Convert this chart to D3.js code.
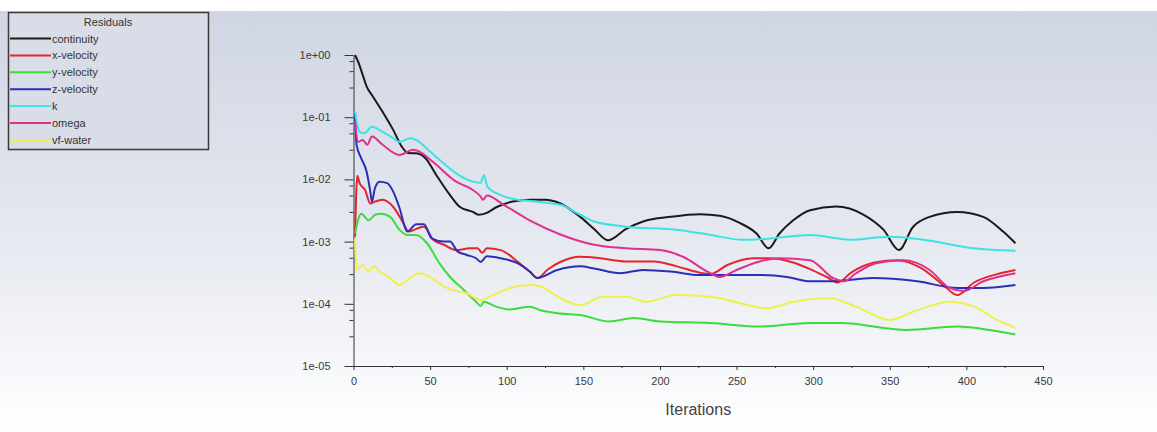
<!DOCTYPE html>
<html>
<head>
<meta charset="utf-8">
<script src="https://cdn.jsdelivr.net/npm/d3@7"></script>
<style>
  html, body { margin: 0; padding: 0; background: #ffffff; }
  svg { display: block; }
</style>
</head>
<body>
<svg id="chart" width="1157" height="432"></svg>
<script>
// ---------------- DATA ----------------
const seriesNames = ["continuity", "x-velocity", "y-velocity", "z-velocity", "k", "omega", "vf-water"];
const seriesColors = ["#1a1a1a", "#e3252d", "#3bdc3b", "#2a2fb8", "#3fe2e2", "#e0308f", "#f0f04a"];

const xTickValues = [0, 50, 100, 150, 200, 250, 300, 350, 400, 450];
const xMinorTicks = [25, 75, 125, 175, 225, 275, 325, 375, 425];
const yTickValues = [1, 1e-1, 1e-2, 1e-3, 1e-4, 1e-5];
const yTickLabels = ["1e+00", "1e-01", "1e-02", "1e-03", "1e-04", "1e-05"];
const yMinorFactors = [0.8, 0.55, 0.3];

// [iteration, residual]
const continuity = [[1,1.0],[3,0.78],[6,0.48],[8.6,0.31],[12,0.227],[19,0.122],[26,0.062],[31.5,0.0336],[35.6,0.0266],[41,0.0263],[47,0.0219],[54,0.0118],[63,0.0056],[69.5,0.0036],[78,0.0030],[81.5,0.0027],[87,0.0029],[93.5,0.0036],[104,0.0044],[115,0.0047],[125,0.0047],[135,0.0041],[148,0.0025],[157,0.0016],[166,0.00105],[178,0.0016],[189,0.0021],[207,0.0025],[226,0.00275],[239,0.0026],[252,0.002],[263,0.00135],[271,0.00078],[278,0.00135],[287,0.0022],[298,0.0032],[315,0.00366],[333,0.0027],[346,0.00154],[356,0.00073],[365,0.0017],[376,0.0025],[394,0.003],[411,0.0025],[424,0.00145],[432,0.00094]];
const xVelocity = [[1,0.0012],[2.5,0.0115],[4,0.0087],[7.5,0.0068],[11,0.0041],[14,0.0044],[19,0.0047],[26,0.0036],[32.5,0.0020],[36,0.00145],[41,0.0016],[46,0.00174],[52,0.00107],[59,0.00089],[67,0.00073],[76,0.00078],[81,0.00078],[84,0.00066],[87,0.00078],[96,0.00073],[107,0.00048],[115,0.00033],[120,0.00026],[127,0.00036],[135,0.00047],[148,0.00057],[161,0.00054],[178,0.00048],[196,0.00048],[211,0.0004],[228,0.00031],[233,0.0003],[244,0.00042],[261,0.00054],[272,0.00054],[287,0.00046],[298,0.00036],[310,0.00026],[316,0.00022],[325,0.00032],[340,0.00046],[355,0.0005],[370,0.00038],[385,0.0002],[394,0.000138],[405,0.00022],[420,0.0003],[432,0.00035]];
const yVelocity = [[1,0.00135],[5,0.0028],[10,0.0022],[14,0.0027],[18,0.0028],[24,0.0025],[30,0.00155],[35,0.00128],[41,0.00128],[48,0.00094],[56,0.00045],[63,0.00027],[72,0.000167],[80,0.000108],[83,0.000092],[85,0.000108],[93,0.00009],[102,0.000081],[115,0.00009],[122,0.000079],[135,0.00007],[148,0.000066],[167,0.000052],[183,0.000059],[200,0.000052],[233,0.000049],[265,0.000043],[298,0.000049],[318,0.000049],[361,0.000038],[394,0.000043],[415,0.000038],[432,0.000032]];
const zVelocity = [[1,0.12],[2,0.036],[5,0.022],[8.6,0.0132],[11,0.0063],[12,0.0044],[14,0.0072],[17,0.0092],[22,0.0087],[26,0.0063],[30,0.0035],[35,0.00145],[41,0.0019],[46,0.0019],[51,0.00113],[59,0.001],[63,0.001],[68,0.00069],[74,0.00061],[80,0.00054],[83,0.00047],[87,0.00058],[96,0.00054],[107,0.00045],[115,0.00033],[120,0.00026],[133,0.00035],[148,0.0004],[157,0.00037],[174,0.00031],[189,0.00035],[207,0.00033],[226,0.00029],[265,0.00029],[283,0.00027],[298,0.00023],[311,0.00023],[339,0.00026],[368,0.00023],[394,0.00018],[411,0.00018],[432,0.0002]];
const kTurb = [[1,0.123],[4,0.058],[7,0.055],[12,0.07],[19,0.058],[26,0.046],[30,0.040],[37,0.046],[41,0.043],[50,0.028],[59,0.018],[67,0.0125],[78,0.0092],[83,0.0088],[85,0.0118],[87.5,0.0076],[96,0.0056],[107,0.0047],[115,0.0045],[135,0.0039],[148,0.0027],[157,0.0021],[178,0.00174],[211,0.00155],[233,0.00128],[254,0.00107],[272,0.00112],[298,0.00128],[324,0.00107],[350,0.0012],[372,0.00107],[405,0.00078],[432,0.00071]];
const omega = [[1,0.085],[3,0.04],[6,0.043],[9,0.036],[12,0.049],[19,0.036],[30,0.0247],[39,0.030],[43,0.028],[52,0.019],[67,0.0092],[76,0.0072],[83,0.0053],[84.5,0.0047],[87,0.0055],[98,0.0039],[115,0.0022],[135,0.0013],[157,0.00089],[178,0.00078],[200,0.00073],[215,0.00057],[231,0.00033],[239,0.00027],[250,0.00035],[265,0.00048],[278,0.00054],[298,0.0005],[313,0.00026],[320,0.00023],[328,0.00031],[341,0.00045],[359,0.0005],[376,0.00035],[389,0.00018],[398,0.00016],[411,0.00023],[432,0.00031]];
const vfWater = [[1,0.0011],[2,0.00035],[6,0.00042],[10,0.00033],[13,0.0004],[17,0.00033],[24,0.00026],[30,0.0002],[37,0.00026],[43,0.00031],[50,0.00027],[59,0.00019],[67,0.00016],[74,0.000148],[83,0.000115],[91,0.000138],[102,0.000178],[115,0.0002],[122,0.00019],[135,0.000123],[148,0.000095],[163,0.00013],[178,0.00013],[191,0.000108],[211,0.000138],[233,0.00013],[254,0.0001],[270,0.000085],[287,0.000108],[311,0.000123],[328,0.00009],[350,0.000055],[368,0.000079],[389,0.000108],[405,0.00009],[420,0.000055],[432,0.000041]];

const seriesData = [continuity, xVelocity, yVelocity, zVelocity, kTurb, omega, vfWater];

// ---------------- DRAW ----------------
const svg = d3.select("#chart");
const font = "'Liberation Sans', Arial, sans-serif";

// background panel gradient
const defs = svg.append("defs");
const grad = defs.append("linearGradient").attr("id", "bg").attr("x1", 0).attr("y1", 0).attr("x2", 0).attr("y2", 1);
grad.append("stop").attr("offset", "0%").attr("stop-color", "#cfd5e3");
grad.append("stop").attr("offset", "55%").attr("stop-color", "#e6e9f0");
grad.append("stop").attr("offset", "100%").attr("stop-color", "#ffffff");
svg.append("rect").attr("x", 0).attr("y", 0).attr("width", 1157).attr("height", 432).attr("fill", "#ffffff");
svg.append("rect").attr("x", 0).attr("y", 11).attr("width", 1157).attr("height", 421).attr("fill", "url(#bg)");

const x = d3.scaleLinear().domain([0, 450]).range([353.5, 1043]);
const y = d3.scaleLog().domain([1e-5, 1]).range([366, 55]);

// X axis
const xAxisG = svg.append("g").attr("transform", `translate(0,${y(1e-5)})`)
  .call(d3.axisBottom(x).tickValues(xTickValues).tickSize(4).tickSizeOuter(0).tickPadding(7).tickFormat(d3.format("d")));
svg.append("g").attr("transform", `translate(0,${y(1e-5)})`)
  .call(d3.axisBottom(x).tickValues(xMinorTicks).tickSize(2).tickSizeOuter(0).tickFormat(""))
  .call(g => g.select(".domain").remove());

// Y axis
const yAxisG = svg.append("g").attr("transform", `translate(${x(0)},0)`)
  .call(d3.axisLeft(y).tickValues(yTickValues).tickSize(9).tickSizeOuter(0).tickPadding(14)
    .tickFormat((d, i) => yTickLabels[i]));
const yMinor = [];
yTickValues.slice(0, 5).forEach(v => yMinorFactors.forEach(f => yMinor.push(v * f)));
svg.append("g").attr("transform", `translate(${x(0)},0)`)
  .call(d3.axisLeft(y).tickValues(yMinor).tickSize(4).tickSizeOuter(0).tickFormat(""))
  .call(g => g.select(".domain").remove());

svg.selectAll(".tick line").attr("stroke", "#333");
svg.selectAll(".domain").attr("stroke", "#333");
svg.selectAll(".tick text").attr("font-family", font).attr("font-size", 11).attr("fill", "#3a3a3a");

// axis title
svg.append("text").attr("x", (x(0) + x(450)) / 2).attr("y", 415)
  .attr("text-anchor", "middle").attr("font-family", font).attr("font-size", 16)
  .attr("fill", "#444").text("Iterations");

// lines
const line = d3.line().x(d => x(d[0])).y(d => y(d[1])).curve(d3.curveMonotoneX);
seriesData.forEach((data, i) => {
  svg.append("path").datum(data).attr("d", line)
    .attr("fill", "none").attr("stroke", seriesColors[i])
    .attr("stroke-width", 2).attr("stroke-linejoin", "round");
});

// legend
const lg = svg.append("g");
lg.append("rect").attr("x", 8.5).attr("y", 12.5).attr("width", 200).attr("height", 137)
  .attr("fill", "#d9dde8").attr("stroke", "#3a3a3a").attr("stroke-width", 1.5);
lg.append("text").attr("x", 108).attr("y", 25.5).attr("text-anchor", "middle")
  .attr("font-family", font).attr("font-size", 11).attr("fill", "#333").text("Residuals");
seriesNames.forEach((name, i) => {
  const yy = 38.5 + i * 16.9;
  lg.append("line").attr("x1", 10).attr("x2", 51).attr("y1", yy).attr("y2", yy)
    .attr("stroke", seriesColors[i]).attr("stroke-width", 2);
  lg.append("text").attr("x", 52).attr("y", yy + 4).attr("font-family", font)
    .attr("font-size", 11).attr("fill", "#333").text(name);
});
</script>
</body>
</html>
